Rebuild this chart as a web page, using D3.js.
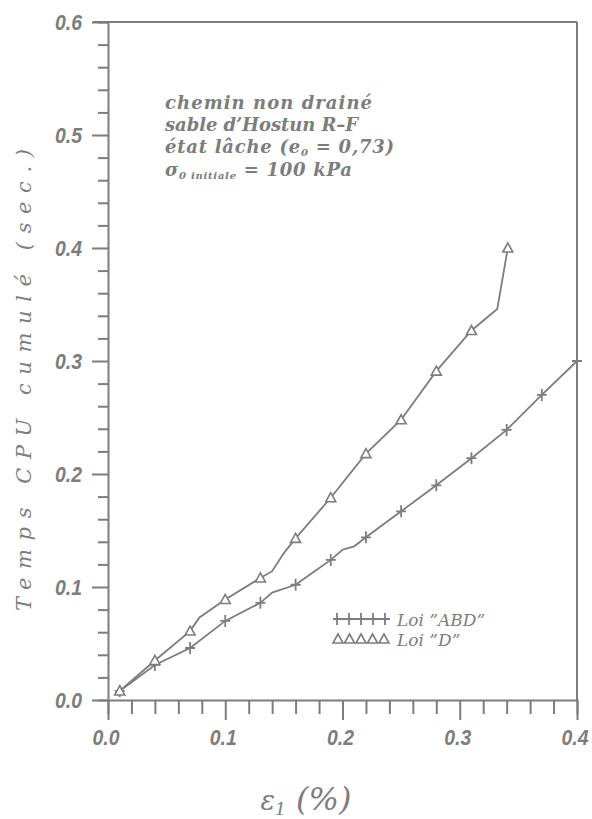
<!DOCTYPE html>
<html>
<head>
<meta charset="utf-8">
<script src="https://cdn.jsdelivr.net/npm/d3@7"></script>
<style>
    body { margin: 0; background: #fff; }
    svg { display: block; }
</style>
</head>
<body>
<svg id="renderer" width="592" height="819"></svg>
<script>
const WIDTH = 592, HEIGHT = 819;
const GREY = '#7d7d7d';
const TICK_FONT = '"Liberation Sans Narrow", "Liberation Sans", Arial, sans-serif';
const SERIF_FONT = '"DejaVu Serif", "Liberation Serif", serif';

// axis ticks
const xTicks = [0.0, 0.1, 0.2, 0.3, 0.4];
const yTicks = [0.0, 0.1, 0.2, 0.3, 0.4, 0.5, 0.6];

// Loi "ABD" (croix)
const abdX = [0.01, 0.04, 0.07, 0.10, 0.13, 0.14, 0.16, 0.175, 0.19, 0.20, 0.21, 0.22, 0.25, 0.28, 0.31, 0.34, 0.37, 0.40];
const abdY = [0.008, 0.031, 0.046, 0.070, 0.086, 0.095, 0.102, 0.113, 0.124, 0.133, 0.136, 0.144, 0.167, 0.190, 0.214, 0.239, 0.270, 0.300];
const abdMarkX = [0.01, 0.04, 0.07, 0.10, 0.13, 0.16, 0.19, 0.22, 0.25, 0.28, 0.31, 0.34, 0.37, 0.40];

// Loi "D" (triangles)
const dX = [0.01, 0.04, 0.07, 0.078, 0.10, 0.13, 0.14, 0.15, 0.16, 0.19, 0.22, 0.25, 0.28, 0.31, 0.332, 0.341];
const dY = [0.008, 0.035, 0.061, 0.073, 0.089, 0.108, 0.114, 0.130, 0.143, 0.179, 0.218, 0.248, 0.291, 0.327, 0.346, 0.400];
const dMarkX = [0.01, 0.04, 0.07, 0.10, 0.13, 0.16, 0.19, 0.22, 0.25, 0.28, 0.31, 0.341];

const legendLabels = ['Loi "ABD"', 'Loi "D"'];
const noteLines = ['chemin non drainé', 'sable d\u2019Hostun R\u2013F'];

const root = d3.select('#renderer');
let g = root.append('g');

let x = d3.scaleLinear().domain([0, 0.4]).range([108, 577]);
let y = d3.scaleLinear().domain([0, 0.6]).range([700, 22]);

// cadre : haut et droite
g.append('line')
    .attr('x1', 93).attr('y1', y(0.6)).attr('x2', x(0.4)).attr('y2', y(0.6))
    .attr('stroke', GREY).attr('stroke-width', 2);
g.append('line')
    .attr('x1', x(0.4)).attr('y1', y(0.6)).attr('x2', x(0.4)).attr('y2', y(0))
    .attr('stroke', GREY).attr('stroke-width', 2);

// axe x
let xAxis = d3.axisBottom(x)
    .tickValues(d3.range(0, 0.4001, 0.02))
    .tickSize(14)
    .tickFormat('');
let gx = g.append('g').attr('transform', 'translate(0,' + y(0) + ')').call(xAxis);
gx.select('.domain').attr('stroke', GREY).attr('stroke-width', 2);
gx.selectAll('.tick line').attr('stroke', GREY).attr('stroke-width', 2)
    .attr('y2', function (d) {
        return Math.abs(d * 10 - Math.round(d * 10)) < 1e-6 ? 20 : 14;
    });
gx.selectAll('.tick text').remove();

let tickStyle = function (sel) {
    return sel.style('font-family', TICK_FONT)
        .style('font-style', 'italic')
        .style('font-weight', 'bold')
        .style('font-size', '22px')
        .attr('textLength', 27)
        .attr('lengthAdjust', 'spacingAndGlyphs')
        .attr('fill', GREY);
};

tickStyle(g.selectAll('.xlabel').data(xTicks).enter().append('text'))
    .attr('class', 'xlabel')
    .attr('x', function (d) { return x(d) - 2; })
    .attr('y', 745)
    .attr('text-anchor', 'middle')
    .text(function (d) { return d3.format('.1f')(d); });

// axe y
let yAxis = d3.axisLeft(y)
    .tickValues(d3.range(0, 0.6001, 0.02))
    .tickSize(10)
    .tickFormat('');
let gy = g.append('g').attr('transform', 'translate(' + x(0) + ',0)').call(yAxis);
gy.select('.domain').attr('stroke', GREY).attr('stroke-width', 2);
gy.selectAll('.tick line').attr('stroke', GREY).attr('stroke-width', 2)
    .attr('x2', function (d) {
        return Math.abs(d * 10 - Math.round(d * 10)) < 1e-6 ? -16 : -10;
    });

tickStyle(g.selectAll('.ylabel').data(yTicks).enter().append('text'))
    .attr('class', 'ylabel')
    .attr('x', 82)
    .attr('y', function (d) { return y(d) + 8; })
    .attr('text-anchor', 'end')
    .text(function (d) { return d3.format('.1f')(d); });

// titres des axes
g.append('text')
    .attr('transform', 'translate(31,380) rotate(-90)')
    .attr('text-anchor', 'middle')
    .attr('textLength', 462)
    .attr('lengthAdjust', 'spacing')
    .style('font-family', SERIF_FONT)
    .style('font-style', 'italic')
    .style('font-size', '21px')
    .attr('fill', GREY)
    .text('Temps  CPU  cumulé  (sec.)');

let xt = g.append('text')
    .attr('x', 306).attr('y', 810)
    .attr('text-anchor', 'middle')
    .style('font-family', SERIF_FONT)
    .style('font-style', 'italic')
    .attr('fill', GREY);
xt.append('tspan').style('font-size', '27px').text('\u03b5');
xt.append('tspan').style('font-size', '17px').attr('dy', 5).text('1');
xt.append('tspan').style('font-size', '32px').attr('dy', -5).text(' (%)');

// courbes
let line = d3.line()
    .x(function (d) { return x(d.x); })
    .y(function (d) { return y(d.y); })
    .curve(d3.curveLinear);

let abd = abdX.map(function (v, i) { return { x: v, y: abdY[i] }; });
let dd = dX.map(function (v, i) { return { x: v, y: dY[i] }; });

g.append('path').attr('d', line(abd))
    .attr('fill', 'none').attr('stroke', GREY).attr('stroke-width', 1.8);
g.append('path').attr('d', line(dd))
    .attr('fill', 'none').attr('stroke', GREY).attr('stroke-width', 1.8);

function cross(sel, cx, cy) {
    sel.append('path')
        .attr('d', 'M' + (cx - 5) + ',' + cy + 'H' + (cx + 5) + 'M' + cx + ',' + (cy - 6) + 'V' + (cy + 6))
        .attr('stroke', GREY).attr('stroke-width', 1.8).attr('fill', 'none');
}

function triangle(sel, cx, cy) {
    sel.append('path')
        .attr('d', 'M' + (cx - 5) + ',' + (cy + 4) + 'L' + cx + ',' + (cy - 5) + 'L' + (cx + 5) + ',' + (cy + 4) + 'Z')
        .attr('stroke', GREY).attr('stroke-width', 1.6).attr('fill', '#fff');
}

abdMarkX.forEach(function (v) {
    let p = abd.find(function (d) { return Math.abs(d.x - v) < 1e-9; });
    cross(g, x(p.x), y(p.y));
});
dMarkX.forEach(function (v) {
    let p = dd.find(function (d) { return Math.abs(d.x - v) < 1e-9; });
    triangle(g, x(p.x), y(p.y));
});

// légende
let lg = g.append('g').attr('transform', 'translate(333,619)');
lg.append('line').attr('x1', 0).attr('x2', 57).attr('y1', 0).attr('y2', 0)
    .attr('stroke', GREY).attr('stroke-width', 1.8);
for (let i = 0; i < 5; i++) {
    lg.append('line').attr('x1', 4 + i * 12).attr('x2', 4 + i * 12).attr('y1', -6).attr('y2', 6)
        .attr('stroke', GREY).attr('stroke-width', 1.8);
}
for (let i = 0; i < 5; i++) {
    triangle(lg, 5 + i * 11.5, 20);
}
legendLabels.forEach(function (t, i) {
    lg.append('text')
        .attr('x', 64).attr('y', 7 + i * 20)
        .style('font-family', SERIF_FONT)
        .style('font-style', 'italic')
        .style('font-size', '17px')
        .attr('fill', GREY)
        .text(t.replace(/"/g, '\u201d'));
});

// texte d'annotation
let noteStyle = function (sel, len) {
    return sel.style('font-family', SERIF_FONT)
        .style('font-style', 'italic')
        .style('font-weight', 'bold')
        .style('font-size', '18px')
        .attr('textLength', len)
        .attr('lengthAdjust', 'spacing')
        .attr('fill', GREY);
};
const noteLens = [207, 193, 229, 187];
noteLines.forEach(function (t, i) {
    noteStyle(g.append('text'), noteLens[i])
        .attr('x', 165).attr('y', 109 + i * 22)
        .text(t);
});
let n3 = noteStyle(g.append('text'), noteLens[2]).attr('x', 165).attr('y', 153);
n3.append('tspan').text('état lâche (e');
n3.append('tspan').attr('dy', 3).style('font-size', '10px').text('0');
n3.append('tspan').attr('dy', -3).text(' = 0,73)');

let n4 = noteStyle(g.append('text'), noteLens[3]).attr('x', 165).attr('y', 176);
n4.append('tspan').text('\u03c3');
n4.append('tspan').attr('dy', 3).style('font-size', '10px').text('0 initiale');
n4.append('tspan').attr('dy', -3).text(' = 100 kPa');
</script>
</body>
</html>
